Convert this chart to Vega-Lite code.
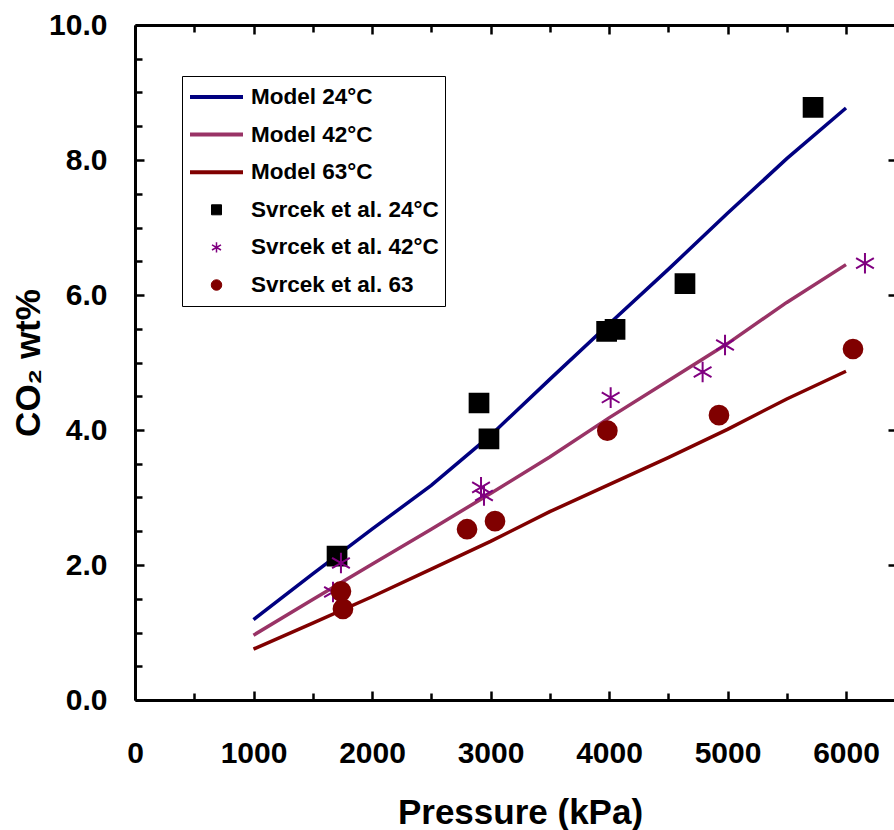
{
  "$schema": "https://vega.github.io/schema/vega-lite/v6.json",
  "width": 759,
  "height": 675,
  "autosize": {"type": "none"},
  "padding": {"left": 135, "top": 25, "right": 0, "bottom": 130},
  "background": "white",
  "config": {
    "view": {"stroke": null},
    "font": "Liberation Sans",
    "axis": {"grid": false, "labelFont": "Liberation Sans", "titleFont": "Liberation Sans", "labelColor": "black", "titleColor": "black", "domainColor": "black", "tickColor": "black"},
    "legend": {
      "orient": "none",
      "legendX": 47,
      "legendY": 51,
      "title": null,
      "strokeColor": "black",
      "fillColor": "white",
      "padding": 6,
      "clipHeight": 30,
      "rowPadding": 7.6,
      "labelOffset": 6,
      "labelFont": "Liberation Sans",
      "labelFontSize": 22.5,
      "labelFontWeight": "bold",
      "labelColor": "black",
      "labelLimit": 400,
      "symbolOpacity": 1
    }
  },
  "datasets": {
    "model": [
      {"series": "Model 24°C", "P": 1000, "CO2": 1.19},
      {"series": "Model 24°C", "P": 1500, "CO2": 1.87},
      {"series": "Model 24°C", "P": 2000, "CO2": 2.53},
      {"series": "Model 24°C", "P": 2500, "CO2": 3.18},
      {"series": "Model 24°C", "P": 3000, "CO2": 3.92},
      {"series": "Model 24°C", "P": 3500, "CO2": 4.75},
      {"series": "Model 24°C", "P": 4000, "CO2": 5.57},
      {"series": "Model 24°C", "P": 4500, "CO2": 6.38},
      {"series": "Model 24°C", "P": 5000, "CO2": 7.21},
      {"series": "Model 24°C", "P": 5500, "CO2": 8.02},
      {"series": "Model 24°C", "P": 6000, "CO2": 8.77},
      {"series": "Model 42°C", "P": 1000, "CO2": 0.96},
      {"series": "Model 42°C", "P": 1500, "CO2": 1.49},
      {"series": "Model 42°C", "P": 2000, "CO2": 2.01},
      {"series": "Model 42°C", "P": 2500, "CO2": 2.53},
      {"series": "Model 42°C", "P": 3000, "CO2": 3.06},
      {"series": "Model 42°C", "P": 3500, "CO2": 3.60},
      {"series": "Model 42°C", "P": 4000, "CO2": 4.18},
      {"series": "Model 42°C", "P": 4500, "CO2": 4.73},
      {"series": "Model 42°C", "P": 5000, "CO2": 5.28},
      {"series": "Model 42°C", "P": 5500, "CO2": 5.89},
      {"series": "Model 42°C", "P": 6000, "CO2": 6.45},
      {"series": "Model 63°C", "P": 1000, "CO2": 0.755},
      {"series": "Model 63°C", "P": 1500, "CO2": 1.14},
      {"series": "Model 63°C", "P": 2000, "CO2": 1.53},
      {"series": "Model 63°C", "P": 2500, "CO2": 1.94},
      {"series": "Model 63°C", "P": 3000, "CO2": 2.35},
      {"series": "Model 63°C", "P": 3500, "CO2": 2.79},
      {"series": "Model 63°C", "P": 4000, "CO2": 3.19},
      {"series": "Model 63°C", "P": 4500, "CO2": 3.59},
      {"series": "Model 63°C", "P": 5000, "CO2": 4.01},
      {"series": "Model 63°C", "P": 5500, "CO2": 4.46},
      {"series": "Model 63°C", "P": 6000, "CO2": 4.87}
    ],
    "exp": [
      {"series": "Svrcek et al. 24°C", "P": 1705, "CO2": 2.13},
      {"series": "Svrcek et al. 24°C", "P": 2903, "CO2": 4.40},
      {"series": "Svrcek et al. 24°C", "P": 2987, "CO2": 3.87},
      {"series": "Svrcek et al. 24°C", "P": 3980, "CO2": 5.46},
      {"series": "Svrcek et al. 24°C", "P": 4051, "CO2": 5.49},
      {"series": "Svrcek et al. 24°C", "P": 4641, "CO2": 6.17},
      {"series": "Svrcek et al. 24°C", "P": 5722, "CO2": 8.78},
      {"series": "Svrcek et al. 42°C", "P": 1738, "CO2": 2.03},
      {"series": "Svrcek et al. 42°C", "P": 1671, "CO2": 1.60},
      {"series": "Svrcek et al. 42°C", "P": 2920, "CO2": 3.15},
      {"series": "Svrcek et al. 42°C", "P": 2945, "CO2": 3.03},
      {"series": "Svrcek et al. 42°C", "P": 4014, "CO2": 4.48},
      {"series": "Svrcek et al. 42°C", "P": 4790, "CO2": 4.86},
      {"series": "Svrcek et al. 42°C", "P": 4979, "CO2": 5.26},
      {"series": "Svrcek et al. 42°C", "P": 6160, "CO2": 6.47},
      {"series": "Svrcek et al. 63", "P": 1738, "CO2": 1.61},
      {"series": "Svrcek et al. 63", "P": 1755, "CO2": 1.35},
      {"series": "Svrcek et al. 63", "P": 2802, "CO2": 2.53},
      {"series": "Svrcek et al. 63", "P": 3038, "CO2": 2.65},
      {"series": "Svrcek et al. 63", "P": 3986, "CO2": 3.99},
      {"series": "Svrcek et al. 63", "P": 4928, "CO2": 4.22},
      {"series": "Svrcek et al. 63", "P": 6059, "CO2": 5.20}
    ]
  },
  "resolve": {"axis": {"x": "independent", "y": "independent"}},
  "layer": [
    {
      "data": {"name": "model"},
      "mark": {"type": "line", "strokeWidth": 3.5},
      "encoding": {
        "x": {
          "field": "P", "type": "quantitative",
          "scale": {"domain": [0, 6405], "nice": false, "zero": false},
          "axis": {
            "orient": "bottom",
            "values": [0, 500, 1000, 1500, 2000, 2500, 3000, 3500, 4000, 4500, 5000, 5500, 6000],
            "labelExpr": "datum.value % 1000 === 0 ? format(datum.value, 'd') : ''",
            "tickSize": {"condition": {"test": "datum.value % 1000 === 0", "value": -9}, "value": -7},
            "tickWidth": 2.5,
            "domainWidth": 3,
            "labelFontSize": 30,
            "labelFontWeight": "bold",
            "labelPadding": 47,
            "labelFlush": false,
            "labelOverlap": false,
            "title": "Pressure (kPa)",
            "titleFontSize": 35,
            "titleFontWeight": "bold",
            "titleX": 385,
            "titleY": 123,
            "titleAlign": "center",
            "titleBaseline": "alphabetic"
          }
        },
        "y": {
          "field": "CO2", "type": "quantitative",
          "scale": {"domain": [0, 10], "nice": false},
          "axis": {
            "orient": "left",
            "values": [0, 0.5, 1, 1.5, 2, 2.5, 3, 3.5, 4, 4.5, 5, 5.5, 6, 6.5, 7, 7.5, 8, 8.5, 9, 9.5, 10],
            "labelExpr": "datum.value % 2 === 0 ? format(datum.value, '.1f') : ''",
            "tickSize": {"condition": {"test": "datum.value % 2 === 0", "value": -9}, "value": -7},
            "tickWidth": 2.5,
            "domainWidth": 3,
            "labelFontSize": 30,
            "labelFontWeight": "bold",
            "labelPadding": 37,
            "labelFlush": false,
            "labelOverlap": false,
            "title": "CO₂ wt%",
            "titleFontSize": 35,
            "titleFontWeight": "bold",
            "titleAngle": 270,
            "titleX": -96,
            "titleY": 337.5,
            "titleAlign": "center",
            "titleBaseline": "alphabetic"
          }
        },
        "color": {
          "field": "series", "type": "nominal",
          "scale": {
            "domain": ["Model 24°C", "Model 42°C", "Model 63°C"],
            "range": ["#000080", "#993366", "#800000"]
          },
          "legend": null
        }
      }
    },
    {
      "data": {"name": "exp"},
      "mark": {"type": "point", "filled": true, "opacity": 0},
      "encoding": {
        "x": {"field": "P", "type": "quantitative", "axis": null},
        "y": {"field": "CO2", "type": "quantitative", "axis": null},
        "fill": {
          "field": "series", "type": "nominal",
          "scale": {
            "domain": ["Model 24°C", "Model 42°C", "Model 63°C", "Svrcek et al. 24°C", "Svrcek et al. 42°C", "Svrcek et al. 63"],
            "range": ["#000080", "#993366", "#800000", "#000000", "#800080", "#800000"]
          }
        },
        "stroke": {
          "field": "series", "type": "nominal",
          "scale": {
            "domain": ["Model 24°C", "Model 42°C", "Model 63°C", "Svrcek et al. 24°C", "Svrcek et al. 42°C", "Svrcek et al. 63"],
            "range": ["#000080", "#993366", "#800000", "#000000", "#800080", "#800000"]
          }
        },
        "shape": {
          "field": "series", "type": "nominal",
          "scale": {
            "domain": ["Model 24°C", "Model 42°C", "Model 63°C", "Svrcek et al. 24°C", "Svrcek et al. 42°C", "Svrcek et al. 63"],
            "range": ["stroke", "stroke", "stroke", "square", "M0,-1.1L0,1.1M-0.95,-0.55L0.95,0.55M-0.95,0.55L0.95,-0.55", "circle"]
          }
        },
        "size": {
          "field": "series", "type": "nominal",
          "scale": {
            "type": "ordinal",
            "domain": ["Model 24°C", "Model 42°C", "Model 63°C", "Svrcek et al. 24°C", "Svrcek et al. 42°C", "Svrcek et al. 63"],
            "range": [2809, 2809, 2809, 100, 90, 110]
          }
        },
        "strokeWidth": {
          "field": "series", "type": "nominal",
          "scale": {
            "type": "ordinal",
            "domain": ["Model 24°C", "Model 42°C", "Model 63°C", "Svrcek et al. 24°C", "Svrcek et al. 42°C", "Svrcek et al. 63"],
            "range": [4, 4, 4, 1, 1.5, 1]
          }
        }
      }
    },
    {
      "data": {"name": "exp"},
      "mark": {"type": "point", "filled": true, "size": 350, "strokeWidth": 2, "opacity": 1},
      "encoding": {
        "x": {
          "field": "P", "type": "quantitative",
          "axis": {
            "orient": "top",
            "values": [0, 500, 1000, 1500, 2000, 2500, 3000, 3500, 4000, 4500, 5000, 5500, 6000],
            "labels": false,
            "tickSize": {"condition": {"test": "datum.value % 1000 === 0", "value": -9}, "value": -7},
            "tickWidth": 2.5,
            "domainWidth": 3,
            "title": null
          }
        },
        "y": {
          "field": "CO2", "type": "quantitative",
          "axis": {
            "orient": "right",
            "values": [0, 2, 4, 6, 8, 10],
            "labels": false,
            "domain": false,
            "tickSize": -6,
            "tickWidth": 2.5,
            "title": null
          }
        },
        "fill": {"field": "series", "type": "nominal"},
        "stroke": {"field": "series", "type": "nominal"},
        "shape": {"field": "series", "type": "nominal"}
      }
    }
  ]
}
